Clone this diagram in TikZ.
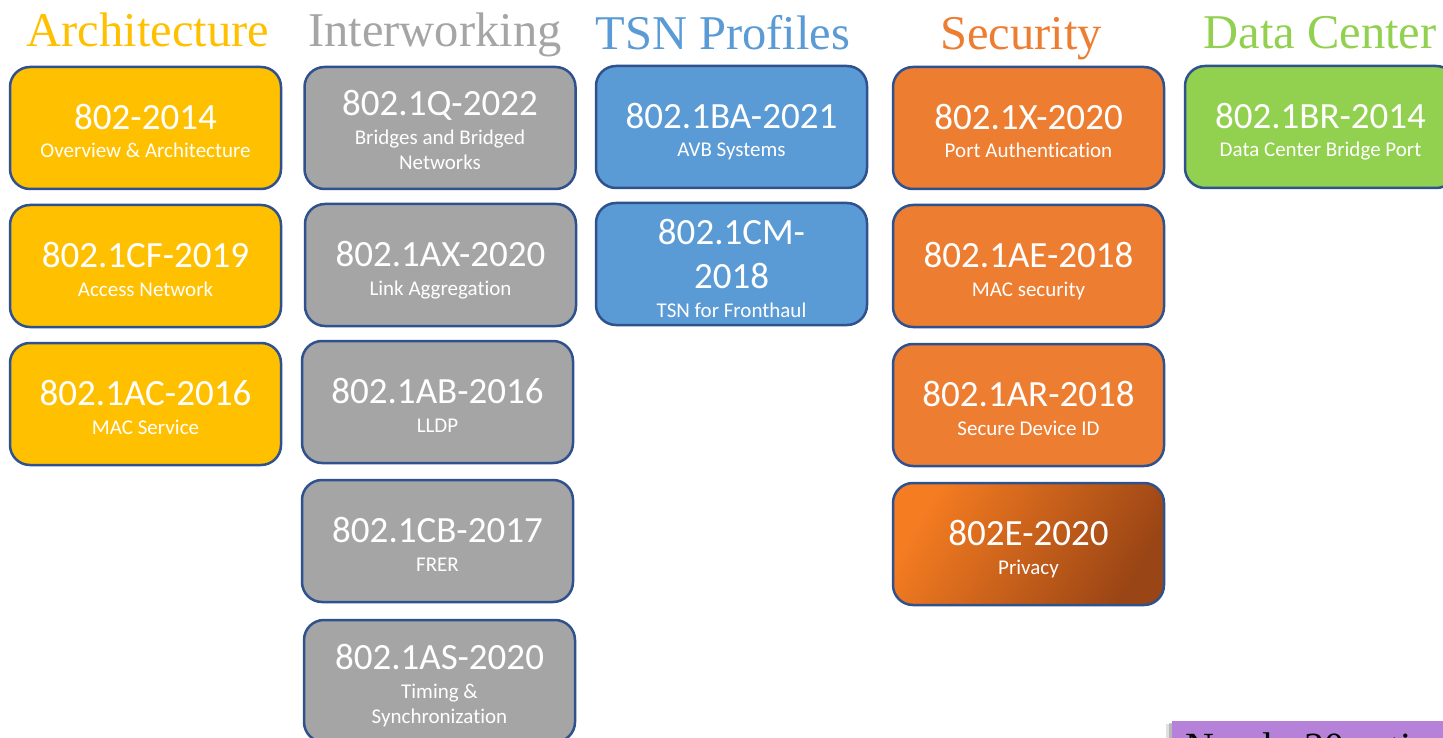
\documentclass[tikz,border=0pt]{standalone}
\usepackage{fontspec}
\setmainfont{Liberation Serif}
\newfontfamily\carlito[Ligatures=NoCommon]{Carlito}
\definecolor{bordercol}{HTML}{2F528F}
\definecolor{cyellow}{HTML}{FFC000}
\definecolor{cgray}{HTML}{A5A5A5}
\definecolor{cblue}{HTML}{5B9BD5}
\definecolor{corange}{HTML}{ED7D31}
\definecolor{cgreen}{HTML}{92D050}
\definecolor{privA}{HTML}{F57C21}
\definecolor{privM}{HTML}{D8691E}
\definecolor{privB}{HTML}{9A4515}
\definecolor{cpurple}{HTML}{B682D9}
\tikzset{
  stdbox/.style={draw=bordercol, line width=2.5pt, rounded corners=20pt,
    minimum width=271pt, minimum height=122pt, inner sep=0pt},
  ttl/.style={font=\carlito\fontsize{37}{37}\selectfont, text=white, anchor=base, inner sep=0pt},
  sub/.style={font=\carlito\fontsize{21}{21}\selectfont, text=white, anchor=base, inner sep=0pt},
  hdr/.style={font=\fontsize{48.5}{48}\selectfont, anchor=base, inner sep=0pt},
}
\newcommand\oneBox[6]{%
  \node[stdbox, fill=#4] (#1) at (#2,#3) {};
  \node[ttl] (#1t) at ([yshift=-1.5pt]#1.center) {#5};
  \node[sub] (#1s) at ([yshift=-30pt]#1.center) {#6};}
\newcommand\twoBox[7]{%
  \node[stdbox, fill=#4] (#1) at (#2,#3) {};
  \node[ttl] (#1t) at ([yshift=12pt]#1.center) {#5};
  \node[sub] (#1s) at ([yshift=-17pt]#1.center) {#6};
  \node[sub] (#1u) at ([yshift=-42pt]#1.center) {#7};}
\begin{document}
\begin{tikzpicture}[x=1pt, y=-1pt]
\clip (0,0) rectangle (1443,738);
\fill[white] (0,0) rectangle (1443,738);

% headers
\node[hdr, text=cyellow] (h1) at (148,47) {Architecture};
\node[hdr, text=cgray] (h2) at (435,47) {Interworking};
\node[hdr, text=cblue] (h3) at (723,50) {TSN Profiles};
\node[hdr, text=corange] (h4) at (1021,50) {Security};
\node[hdr, text=cgreen] (h5) at (1320,49) {Data Center};

% Architecture
\oneBox{a1}{145.5}{128}{cyellow}{802-2014}{Overview \& Architecture}
\oneBox{a2}{145.5}{266}{cyellow}{802.1CF-2019}{Access Network}
\oneBox{a3}{145.5}{404}{cyellow}{802.1AC-2016}{MAC Service}

% Interworking
\twoBox{i1}{440}{128}{cgray}{802.1Q-2022}{Bridges and Bridged}{Networks}
\oneBox{i2}{440.5}{265}{cgray}{802.1AX-2020}{Link Aggregation}
\oneBox{i3}{437.5}{402}{cgray}{802.1AB-2016}{LLDP}
\oneBox{i4}{437.5}{541}{cgray}{802.1CB-2017}{FRER}
\twoBox{i5}{439.5}{681}{cgray}{802.1AS-2020}{Timing \&}{Synchronization}

% TSN Profiles
\oneBox{t1}{731.5}{127}{cblue}{802.1BA-2021}{AVB Systems}
\node[stdbox, fill=cblue] (t2) at (731.5,264) {};
\node[ttl] (t2t) at ([yshift=20pt]t2.center) {802.1CM-};
\node[ttl] (t2u) at ([yshift=-24pt]t2.center) {2018};
\node[sub] (t2s) at ([yshift=-53pt]t2.center) {TSN for Fronthaul};

% Security
\oneBox{s1}{1028.5}{128}{corange}{802.1X-2020}{Port Authentication}
\oneBox{s2}{1028.5}{266}{corange}{802.1AE-2018}{MAC security}
\oneBox{s3}{1028.5}{405}{corange}{802.1AR-2018}{Secure Device ID}
\node[stdbox, left color=privA, middle color=privM, right color=privB, shading angle=60] (s4) at (1028.5,544) {};
\node[ttl] (s4t) at ([yshift=-1.5pt]s4.center) {802E-2020};
\node[sub] (s4s) at ([yshift=-30pt]s4.center) {Privacy};

% Data Center
\oneBox{d1}{1320.5}{127}{cgreen}{802.1BR-2014}{Data Center Bridge Port}

% partial note at bottom right
\fill[black, opacity=0.12] (1166,724) rectangle (1460,780);
\fill[black, opacity=0.18] (1169,723) rectangle (1460,780);
\node[fill=cpurple, anchor=north west, minimum width=290pt, minimum height=60pt, inner sep=0pt] (note) at (1172,721) {};
\node[font=\fontsize{40}{40}\selectfont, anchor=base west, inner sep=0pt] (notet) at (1185,760) {Nearly 30 active};
\end{tikzpicture}
\end{document}
